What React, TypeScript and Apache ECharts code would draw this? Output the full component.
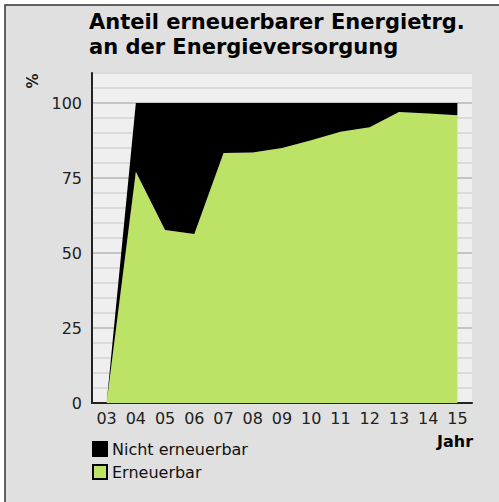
import React, { useEffect, useRef } from "react";
import * as echarts from "echarts";

const years = ["03", "04", "05", "06", "07", "08", "09", "10", "11", "12", "13", "14", "15"];
const erneuerbar = [0, 77.1, 57.7, 56.3, 83.3, 83.5, 85, 87.6, 90.4, 91.9, 97, 96.5, 95.9];
const nichtErneuerbar = [0, 22.9, 42.3, 43.7, 16.7, 16.5, 15, 12.4, 9.6, 8.1, 3, 3.5, 4.1];
const yTickLabels = [0, 25, 50, 75, 100];

export default function App() {
  const ref = useRef<HTMLDivElement>(null);
  useEffect(() => {
    document.body.style.margin = "0";
    const chart = echarts.init(ref.current!, null, { renderer: "svg" });
    const font = "'DejaVu Sans', sans-serif";
    const splitColors = ["#c4c4c4", "#dadada", "#dadada", "#dadada", "#dadada"];
    chart.setOption({
      animation: false,
      backgroundColor: "#ffffff",
      textStyle: { fontFamily: font },
      title: {
        text: "Anteil erneuerbarer Energietrg.\nan der Energieversorgung",
        left: 89,
        top: 9,
        padding: 0,
        textStyle: { fontSize: 21, fontWeight: "bold", color: "#000", lineHeight: 25, fontFamily: font },
      },
      graphic: [
        {
          type: "rect",
          z: -10,
          shape: { x: 5, y: 5, width: 520, height: 520 },
          style: { fill: "#e0e0e0", stroke: "#333", lineWidth: 1.5 },
        },
        {
          type: "text",
          x: 33,
          y: 81,
          rotation: Math.PI / 2,
          style: { text: "%", font: `bold 15px ${font}`, fill: "#222", align: "center", verticalAlign: "middle" },
        },
        {
          type: "text",
          x: 455,
          y: 441,
          style: { text: "Jahr", font: `bold 16px ${font}`, fill: "#000", align: "center", verticalAlign: "middle" },
        },
      ],
      legend: {
        orient: "vertical",
        left: 92,
        top: 441,
        padding: 0,
        itemGap: 7,
        itemWidth: 14,
        itemHeight: 14,
        icon: "rect",
        data: ["Nicht erneuerbar", "Erneuerbar"],
        textStyle: { fontSize: 16, color: "#111", fontFamily: font, padding: [0, 0, 0, 0] },
      },
      grid: {
        left: 92,
        right: 27,
        top: 73,
        bottom: 99,
        show: true,
        backgroundColor: "#efefef",
        borderWidth: 0,
      },
      xAxis: {
        type: "category",
        data: years,
        boundaryGap: true,
        axisLine: { lineStyle: { color: "#222", width: 2 } },
        axisTick: { show: false },
        axisLabel: { fontSize: 16, color: "#222", margin: 7, fontFamily: font },
        splitLine: { show: false },
      },
      yAxis: {
        type: "value",
        min: 0,
        max: 110,
        interval: 5,
        axisLine: { show: true, lineStyle: { color: "#222", width: 2 } },
        axisTick: { show: false },
        axisLabel: {
          fontSize: 16,
          color: "#222",
          margin: 10,
          fontFamily: font,
          formatter: (v: number) => (yTickLabels.indexOf(v) >= 0 ? String(v) : ""),
        },
        splitLine: { show: true, lineStyle: { color: splitColors, width: 2 } },
      },
      series: [
        {
          name: "Erneuerbar",
          type: "line",
          stack: "total",
          data: erneuerbar,
          symbol: "none",
          lineStyle: { width: 0 },
          itemStyle: { color: "#bde366", borderColor: "#000", borderWidth: 1 },
          areaStyle: { color: "#bde366", opacity: 1 },
        },
        {
          name: "Nicht erneuerbar",
          type: "line",
          stack: "total",
          data: nichtErneuerbar,
          symbol: "none",
          lineStyle: { width: 0 },
          itemStyle: { color: "#000", borderColor: "#000", borderWidth: 1 },
          areaStyle: { color: "#000", opacity: 1 },
        },
      ],
    });
    return () => chart.dispose();
  }, []);
  return <div ref={ref} style={{ width: 499, height: 502 }} />;
}
